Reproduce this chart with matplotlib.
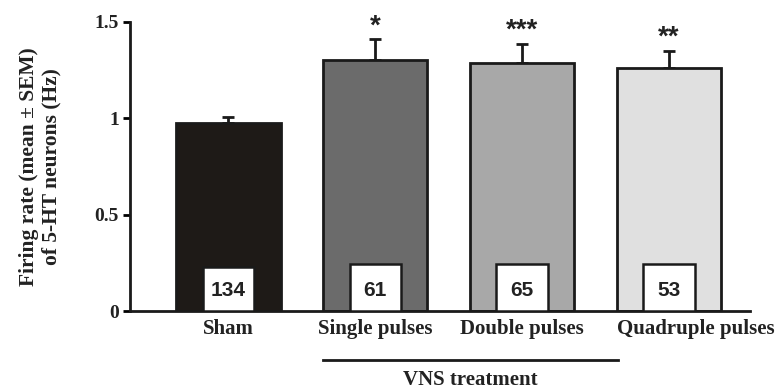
import numpy as np
import matplotlib.pyplot as plt
import matplotlib.transforms as mtransforms
from matplotlib.patches import Rectangle

# data
groups = ['Sham', 'Single pulses', 'Double pulses', 'Quadruple pulses']
means = [0.976, 1.30, 1.287, 1.26]
sems = [0.032, 0.11, 0.10, 0.09]
n_cells = [134, 61, 65, 53]
stars = ['', '*', '***', '**']
colors = ['#1e1a17', '#6b6b6b', '#a8a8a8', '#e0e0e0']

fig = plt.figure(figsize=(7.81, 3.92), dpi=100)
ax = fig.add_axes([0.1665, 0.2066, 0.7935, 0.7374])

x = np.arange(len(groups))
w = 0.71
ax.bar(x, means, width=w, color=colors, edgecolor='#1a1a1a', linewidth=2, zorder=2)
ax.errorbar(x, means, yerr=[np.zeros(len(sems)), sems], fmt='none', ecolor='#1a1a1a',
            elinewidth=2, capsize=4, capthick=2, zorder=1)

# n boxes
for i in range(len(groups)):
    h = 0.228 if i == 0 else 0.244
    ax.add_patch(Rectangle((x[i] - 0.175, 0), 0.35, h, facecolor='white',
                           edgecolor='#1a1a1a', linewidth=1.8, zorder=3))
    ax.text(x[i], 0.105, str(n_cells[i]), ha='center', va='center', fontsize=15,
            fontweight='bold', family='Liberation Sans', color='#222222', zorder=4)
    if stars[i]:
        ax.text(x[i], means[i] + sems[i] + 0.0, stars[i], ha='center', va='bottom',
                fontsize=20, fontweight='bold', family='Liberation Sans', color='#222222')

ax.set_xlim(-0.67, 3.55)
ax.set_ylim(0, 1.5)
ax.set_yticks([0, 0.5, 1, 1.5])
ax.set_yticklabels(['0', '0.5', '1', '1.5'], family='Liberation Serif', fontweight='bold',
                   fontsize=14, color='#222222')
ax.set_xticks(x)
ax.set_xticklabels(groups, family='Liberation Serif', fontweight='bold', fontsize=15,
                   color='#222222')
ax.tick_params(axis='x', length=0, pad=6)
ax.tick_params(axis='y', length=5, width=2, direction='out', pad=3)
# last label sits a bit to the right in the original
lab = ax.get_xticklabels()[-1]
lab.set_transform(lab.get_transform() + mtransforms.ScaledTranslation(27 / 100, 0, fig.dpi_scale_trans))
for s in ['top', 'right']:
    ax.spines[s].set_visible(False)
for s in ['left', 'bottom']:
    ax.spines[s].set_linewidth(2)
    ax.spines[s].set_color('#1a1a1a')

ax.set_ylabel('Firing rate (mean \u00b1 SEM)\nof 5-HT neurons (Hz)', family='Liberation Serif',
              fontweight='bold', fontsize=15.5, color='#222222', labelpad=24, linespacing=1.15)

# VNS treatment bracket
ax.plot([x[1] - w / 2, x[3] - w / 2 + 0.005], [-0.254, -0.254], color='#1a1a1a', lw=2,
        clip_on=False)
ax.text((x[1] - w / 2 + x[3] - w / 2) / 2, -0.384, 'VNS treatment', ha='center',
        va='baseline', family='Liberation Serif', fontweight='bold', fontsize=15,
        color='#222222')

fig.savefig('out.png', dpi=100)
